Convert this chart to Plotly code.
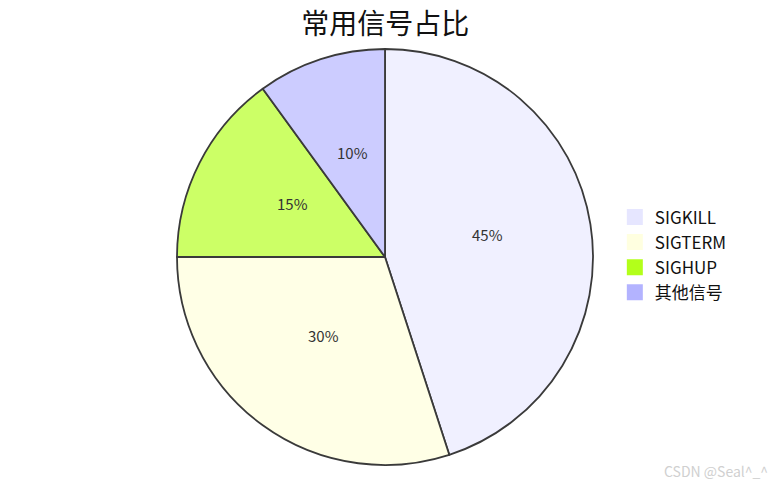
import math
import plotly.graph_objects as go

# signal share data
labels = ["SIGKILL", "SIGTERM", "SIGHUP", "其他信号"]
values = [45, 30, 15, 10]
pie_colors = ["#f0f0ff", "#ffffe6", "#ccff66", "#ccccff"]
legend_colors = ["#e6e6ff", "#ffffe0", "#b3ff1a", "#b3b3ff"]

W, H = 776, 487
# pie placement in figure pixels (page has an 8px body margin)
cx, cy, r = 377, 249, 208
dom_x = [(cx - r) / W, (cx + r) / W]
dom_y = [1 - (cy + r) / H, 1 - (cy - r) / H]

fig = go.Figure(go.Pie(
    labels=labels, values=values, sort=False, direction="clockwise", rotation=0,
    marker=dict(colors=pie_colors, line=dict(color="#3a3a3a", width=1.8)),
    textinfo="none", hoverinfo="label+percent", showlegend=False,
    domain=dict(x=dom_x, y=dom_y),
))

# legend entries as square markers
for name, col in zip(labels, legend_colors):
    fig.add_trace(go.Scatter(x=[None], y=[None], mode="markers", name=name,
                             marker=dict(symbol="square", size=16, color=col,
                                         line=dict(width=0)),
                             hoverinfo="skip"))

# percent labels at half radius, mid-angle of each slice
total = sum(values)
annotations = []
start = 0.0
for v in values:
    mid = (start + v / 2) / total * 2 * math.pi
    px_ = cx + 0.5 * r * math.sin(mid)
    py_ = cy - 0.5 * r * math.cos(mid)
    annotations.append(dict(text=f"{round(v / total * 100)}%", xref="paper", yref="paper",
                            x=px_ / W, y=1 - py_ / H, xanchor="center", yanchor="middle",
                            yshift=6, showarrow=False,
                            font=dict(size=15, color="#333333")))
    start += v

annotations.append(dict(text="CSDN @Seal^_^", xref="paper", yref="paper",
                        x=0.982, y=0.05, xanchor="right", yanchor="middle", showarrow=False,
                        font=dict(size=14, color="#d0d0d0")))

fig.update_layout(
    width=W, height=H,
    font=dict(family="Noto Sans CJK SC", color="#111111"),
    title=dict(text="常用信号占比", x=0.486, xanchor="center", y=0.966, yanchor="middle",
               font=dict(size=28, color="#111111")),
    margin=dict(l=0, r=0, t=0, b=0),
    paper_bgcolor="white", plot_bgcolor="white",
    xaxis=dict(visible=False), yaxis=dict(visible=False),
    legend=dict(x=0.782, xanchor="left", y=0.493, yanchor="middle", itemwidth=30,
                font=dict(size=17, color="#111111"), tracegroupgap=0),
    annotations=annotations,
)

fig.write_html("out.html")
